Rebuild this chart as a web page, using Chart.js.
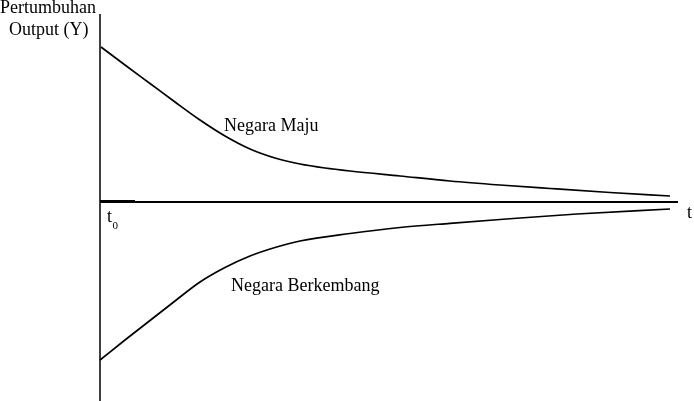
<!DOCTYPE html>
<html>
<head>
<meta charset="utf-8">
<script src="https://cdn.jsdelivr.net/npm/chart.js@4"></script>
<style>
html,body{margin:0;padding:0;background:#fff;}
#wrap{width:694px;height:401px;position:relative;}
</style>
</head>
<body>
<div id="wrap"><canvas id="c"></canvas></div>
<script>
// Time axis (t) positions and growth values
const majuT = [1, 25, 50, 75, 100, 125, 150, 175, 200, 225, 250, 300, 350, 400, 450, 510, 570];
const majuY = [155, 137, 118.5, 100, 82, 66, 53, 44, 38, 34, 31, 26, 21, 17, 13.5, 9.5, 6];
const berkembangT = [0, 25, 50, 75, 100, 125, 150, 175, 200, 250, 300, 350, 400, 477, 570];
const berkembangY = [-158, -138, -118.5, -99, -80, -65.5, -54, -45.5, -39, -31.5, -25.5, -21.3, -17.5, -12, -7];

const xMin = 0, xMax = 580;
const yMin = -199, yMax = 188;

const axisV = [{x: 0, y: yMax}, {x: 0, y: yMin}];
const axisH = [{x: 0, y: 0}, {x: 578, y: 0}];
const axisThick = [{x: 0, y: 1}, {x: 35, y: 1}];

const textLabels = [
  {text: 'Pertumbuhan', x: -100, y: 189, size: 18},
  {text: 'Output (Y)', x: -91, y: 167, size: 18},
  {text: 'Negara Maju', x: 124, y: 71, size: 18},
  {text: 'Negara Berkembang', x: 131, y: -89, size: 18},
  {text: 't', x: 587, y: -16, size: 18},
  {text: 't', x: 7, y: -20, size: 18},
  {text: '0', x: 12.5, y: -27, size: 11}
];

const toPts = (xs, ys) => xs.map((v, i) => ({x: v, y: ys[i]}));

const labelPlugin = {
  id: 'labels',
  afterDraw(chart) {
    const ctx = chart.ctx;
    const xs = chart.scales.x, ys = chart.scales.y;
    ctx.save();
    ctx.fillStyle = '#000';
    ctx.textAlign = 'left';
    ctx.textBaseline = 'alphabetic';
    textLabels.forEach(l => {
      ctx.font = l.size + 'px "Liberation Serif", "DejaVu Serif", serif';
      ctx.fillText(l.text, xs.getPixelForValue(l.x), ys.getPixelForValue(l.y));
    });
    ctx.restore();
  }
};

const lineDs = (data, w, extra) => Object.assign({
  data: data, borderColor: '#000', borderWidth: w, pointRadius: 0,
  fill: false, clip: false, tension: 0, showLine: true
}, extra || {});

new Chart(document.getElementById('c'), {
  type: 'scatter',
  data: {
    datasets: [
      lineDs(axisV, 1.5),
      lineDs(axisH, 2),
      lineDs(axisThick, 2),
      lineDs(toPts(majuT, majuY), 1.7, {cubicInterpolationMode: 'monotone', label: 'Negara Maju'}),
      lineDs(toPts(berkembangT, berkembangY), 1.7, {cubicInterpolationMode: 'monotone', label: 'Negara Berkembang'})
    ]
  },
  options: {
    responsive: true,
    maintainAspectRatio: false,
    devicePixelRatio: 1,
    animation: false,
    layout: {padding: {left: 100, right: 14, top: 14, bottom: 0}},
    plugins: {legend: {display: false}, tooltip: {enabled: false}},
    scales: {
      x: {type: 'linear', min: xMin, max: xMax, display: false},
      y: {type: 'linear', min: yMin, max: yMax, display: false}
    }
  },
  plugins: [labelPlugin]
});
</script>
</body>
</html>
